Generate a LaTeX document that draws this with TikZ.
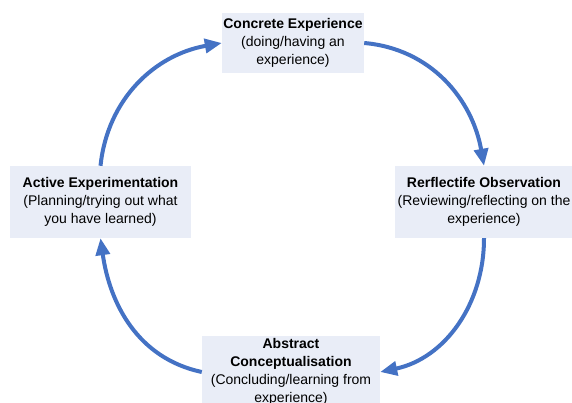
\documentclass[tikz,border=0pt]{standalone}
\usepackage{fontspec}
\setmainfont{Liberation Sans}
\usetikzlibrary{arrows.meta}
\definecolor{boxfill}{RGB}{233,237,247}
\definecolor{cycleblue}{RGB}{68,114,196}

\begin{document}
\begin{tikzpicture}[x=1pt, y=1pt, >={Triangle[length=17pt,width=14pt]}]
    \tikzstyle{stage}=[rectangle,
                       fill=boxfill,
                       inner sep=0pt,
                       align=center,
                       minimum width=178pt,
                       minimum height=72pt,
                       text=black,
                       font=\fontsize{14}{18.2}\selectfont]
    \tikzstyle{cycle}=[->, draw=cycleblue, line width=4pt]

    \clip (0,0) rectangle (572,403);

    \node[stage, minimum width=142pt, minimum height=60pt] (CE) at (293,360)
        {\textbf{Concrete Experience}\\(doing/having an\\experience)};
    \node[stage] (RO) at (484,201)
        {\textbf{Rerflectife Observation}\\(Reviewing/reflecting on the\\experience)};
    \node[stage] (AC) at (291,31)
        {\textbf{Abstract}\\\textbf{Conceptualisation}\\(Concluding/learning from\\experience)};
    \node[stage, minimum width=181pt] (AE) at (100.5,201)
        {\textbf{Active Experimentation}\\(Planning/trying out what\\you have learned)};

    \path (AE.north) edge[cycle, out=84,  in=190] (CE.west)
          (CE.east)  edge[cycle, out=-5,  in=100] (RO.north)
          (RO.south) edge[cycle, out=-90, in=12]  (AC.east)
          (AC.west)  edge[cycle, out=168, in=-82] (AE.south);
\end{tikzpicture}
\end{document}
